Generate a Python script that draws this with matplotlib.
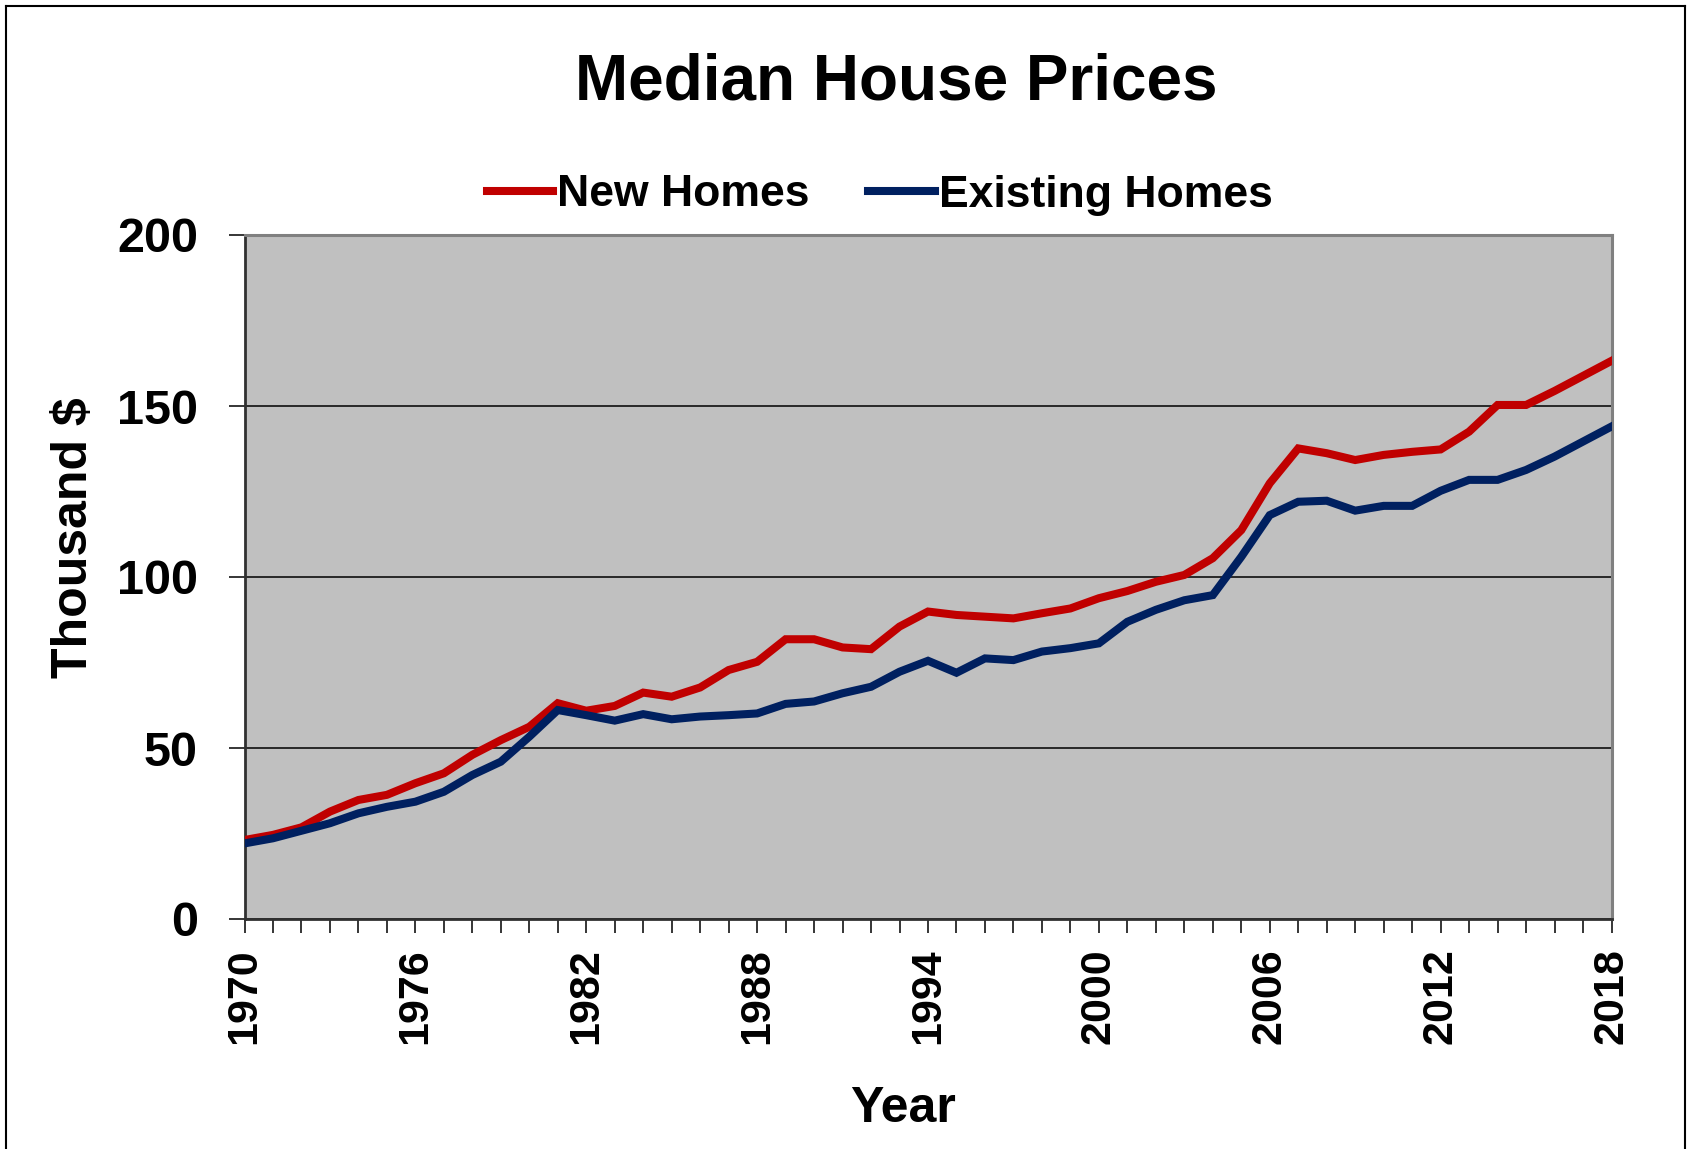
import numpy as np
import matplotlib
matplotlib.use('Agg')
from matplotlib import pyplot as plt
from matplotlib.lines import Line2D
from matplotlib.ticker import MultipleLocator, FixedLocator

plt.rcParams['font.family'] = ['Liberation Sans', 'DejaVu Sans']
plt.rcParams['font.weight'] = 'bold'

# data (thousand $)
years = np.arange(1970, 2019)
new_homes = [23.1, 24.6, 26.8, 31.4, 34.8, 36.3, 39.7, 42.6, 48.0, 52.3,
             56.2, 63.1, 60.9, 62.3, 66.2, 65.0, 67.7, 72.8, 75.2, 81.8,
             81.8, 79.4, 78.9, 85.5, 89.9, 88.9, 88.4, 87.9, 89.4, 90.8,
             93.8, 95.9, 98.6, 100.6, 105.5, 113.7, 127.4, 137.6, 136.2, 134.2,
             135.7, 136.6, 137.3, 142.5, 150.3, 150.3, 154.4, 158.8, 163.2]
existing_homes = [22.1, 23.6, 25.8, 28.0, 30.9, 32.8, 34.3, 37.2, 42.1, 46.0,
                  53.3, 61.1, 59.6, 58.0, 59.9, 58.4, 59.2, 59.6, 60.1, 62.9,
                  63.6, 66.0, 67.9, 72.3, 75.5, 72.0, 76.2, 75.7, 78.2, 79.2,
                  80.6, 86.9, 90.4, 93.2, 94.7, 105.9, 118.1, 122.0, 122.3, 119.4,
                  120.8, 120.8, 125.2, 128.4, 128.4, 131.3, 135.2, 139.6, 144.0]
label_years = years[::6]

RED = '#C00000'
NAVY = '#002060'

W, H = 1689, 1149
fig = plt.figure(figsize=(W/100, H/100), dpi=100)
ax = fig.add_axes([244.5/W, 1 - 919/H, 1367/W, 684/H])
ax.set_facecolor('#C0C0C0')

ax.plot(years, new_homes, color=RED, lw=5.8, label='New Homes', solid_joinstyle='miter', zorder=3)
ax.plot(years, existing_homes, color=NAVY, lw=5.8, label='Existing Homes', solid_joinstyle='miter', zorder=3)

ax.set_xlim(1970, 2018)
ax.set_ylim(0, 200)
ax.xaxis.set_major_locator(FixedLocator(label_years))
ax.xaxis.set_minor_locator(MultipleLocator(1))
ax.yaxis.set_major_locator(MultipleLocator(50))

ax.grid(axis='y', color='black', lw=1.1, zorder=1)
ax.set_axisbelow(True)

for s in ['left', 'bottom']:
    ax.spines[s].set_color('#303030')
    ax.spines[s].set_linewidth(2)
for s in ['top', 'right']:
    ax.spines[s].set_color('#808080')
    ax.spines[s].set_linewidth(2.2)

ax.tick_params(axis='x', which='both', direction='out', length=10, width=1.1, color='black')
ax.tick_params(axis='x', which='major', labelsize=31, pad=11, labelrotation=90)
ax.tick_params(axis='y', direction='out', length=11.5, width=1.1, color='black', labelsize=35, pad=22)

ax.set_xlabel('Year', fontsize=36, fontweight='bold')
ax.xaxis.label.set_va('baseline')
ax.xaxis.set_label_coords(0.4817, -0.2968)
ax.set_ylabel('Thousand $', fontsize=36, fontweight='bold')
ax.yaxis.label.set_va('center')
ax.yaxis.set_label_coords(-0.125, 0.557)

fig.text(896/W, 1 - 100/H, 'Median House Prices', fontsize=46, fontweight='bold',
         ha='center', va='baseline')

ax.legend(loc='center', bbox_to_anchor=(879.5/W, 1 - 195/H), bbox_transform=fig.transFigure,
          ncol=2, frameon=False, fontsize=32, handlelength=1.49, handletextpad=0.09,
          columnspacing=1.33, borderpad=0, borderaxespad=0)

# chart area border
fig.add_artist(Line2D([6/W, 6/W], [0, 1 - 6/H], color='black', lw=1.5))
fig.add_artist(Line2D([6/W, 1685/W], [1 - 6/H, 1 - 6/H], color='black', lw=1.5))
fig.add_artist(Line2D([1685/W, 1685/W], [0, 1 - 6/H], color='black', lw=1.5))

fig.savefig('out.png', dpi=100)
